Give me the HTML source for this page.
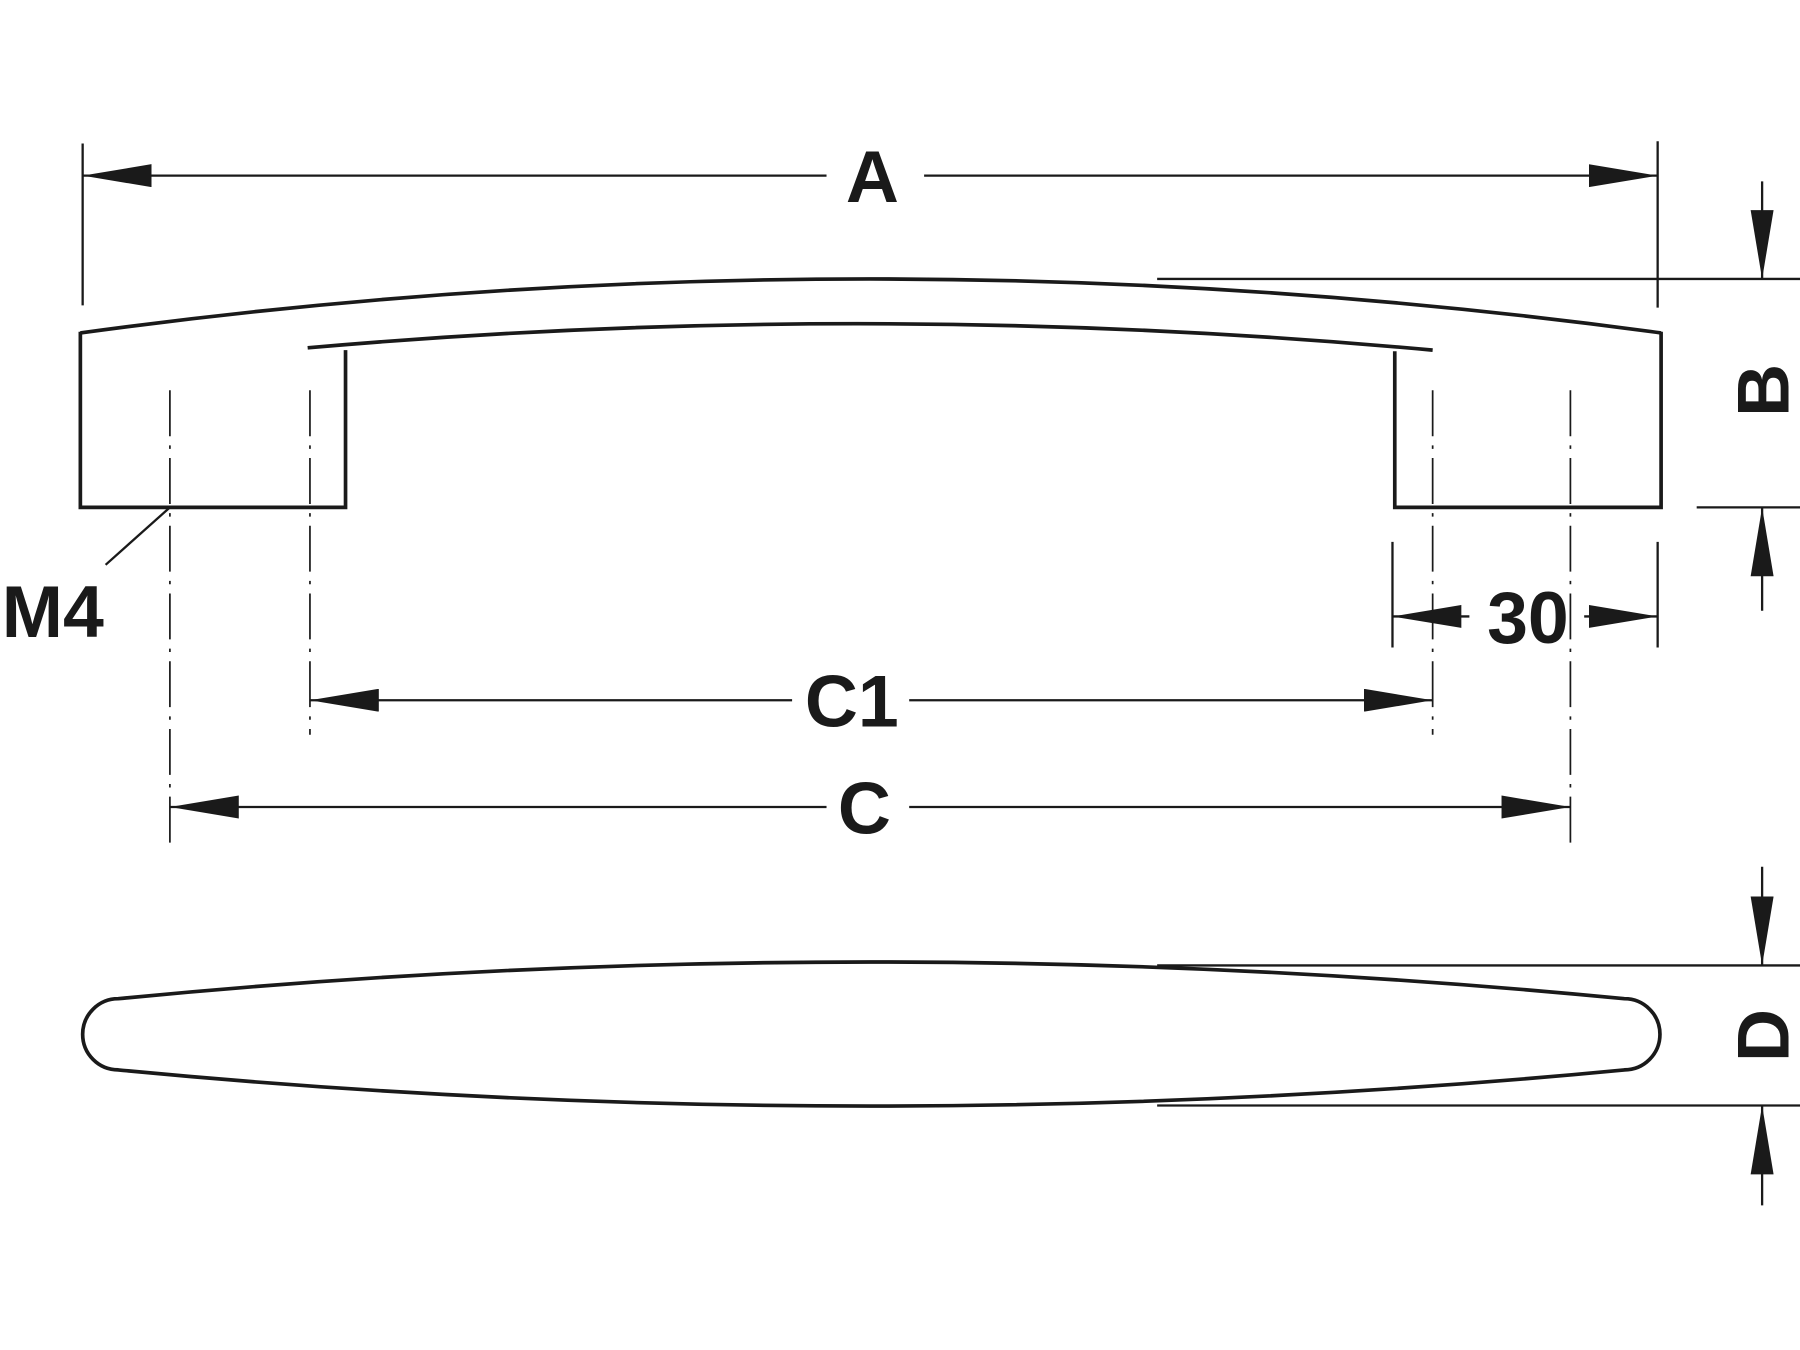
<!DOCTYPE html>
<html><head><meta charset="utf-8"><style>
html,body{margin:0;padding:0;background:#fff;}
svg{display:block;}
text{font-family:"Liberation Sans",sans-serif;font-weight:bold;fill:#1a1a1a;}
</style></head><body>
<svg width="1800" height="1350" viewBox="0 0 1568 1176" preserveAspectRatio="none" xmlns="http://www.w3.org/2000/svg">
<defs>
<marker id="ar" viewBox="0 0 60 20" refX="60" refY="10" markerWidth="60" markerHeight="20" markerUnits="userSpaceOnUse" orient="auto">
<path d="M0,0 L60,10 L0,20 Z" fill="#1a1a1a"/>
</marker>
</defs>
<g stroke="#1a1a1a" fill="none" stroke-width="2">
<line x1="72" y1="125" x2="72" y2="266"/>
<line x1="1444" y1="123" x2="1444" y2="268"/>
<line x1="720" y1="153" x2="72" y2="153" marker-end="url(#ar)"/>
<line x1="805" y1="153" x2="1444" y2="153" marker-end="url(#ar)"/>
<g stroke-width="3.2">
<path d="M70,290 Q757,196 1447,290"/>
<path d="M268,303 Q757,260 1248,305"/>
<polyline points="70,289 70,442 301,442 301,305"/>
<polyline points="1447,289 1447,442 1215,442 1215,306"/>
</g>
<g stroke-dasharray="40,8,3,8" stroke-width="1.5">
<line x1="148" y1="340" x2="148" y2="735"/>
<line x1="270" y1="340" x2="270" y2="640"/>
<line x1="1248" y1="340" x2="1248" y2="640"/>
<line x1="1368" y1="340" x2="1368" y2="735"/>
</g>
<line x1="1008" y1="243" x2="1568" y2="243"/>
<line x1="1478" y1="442" x2="1568" y2="442"/>
<line x1="1535" y1="158" x2="1535" y2="243" marker-end="url(#ar)"/>
<line x1="1535" y1="532" x2="1535" y2="442" marker-end="url(#ar)"/>
<line x1="148" y1="442" x2="92" y2="492"/>
<line x1="1213" y1="472" x2="1213" y2="564"/>
<line x1="1444" y1="472" x2="1444" y2="564"/>
<line x1="1280" y1="537" x2="1213" y2="537" marker-end="url(#ar)"/>
<line x1="1380" y1="537" x2="1444" y2="537" marker-end="url(#ar)"/>
<line x1="690" y1="610" x2="270" y2="610" marker-end="url(#ar)"/>
<line x1="792" y1="610" x2="1248" y2="610" marker-end="url(#ar)"/>
<line x1="720" y1="703" x2="148" y2="703" marker-end="url(#ar)"/>
<line x1="792" y1="703" x2="1368" y2="703" marker-end="url(#ar)"/>
<path stroke-width="3.2" d="M103,870 Q757,806 1415,870 A31,31 0 0 1 1415,932 Q757,995 103,932 A31,31 0 0 1 103,870 Z"/>
<line x1="1008" y1="841" x2="1568" y2="841"/>
<line x1="1008" y1="963" x2="1568" y2="963"/>
<line x1="1535" y1="755" x2="1535" y2="841" marker-end="url(#ar)"/>
<line x1="1535" y1="1050" x2="1535" y2="963" marker-end="url(#ar)"/>
</g>
<g font-size="64" text-anchor="middle">
<text x="760" y="176">A</text>
<text x="742" y="633">C1</text>
<text x="753" y="726">C</text>
<text x="1331" y="560">30</text>
<text x="46" y="555">M4</text>
<text transform="translate(1558,340) rotate(-90)">B</text>
<text transform="translate(1558,902) rotate(-90)">D</text>
</g>
</svg>
</body></html>
